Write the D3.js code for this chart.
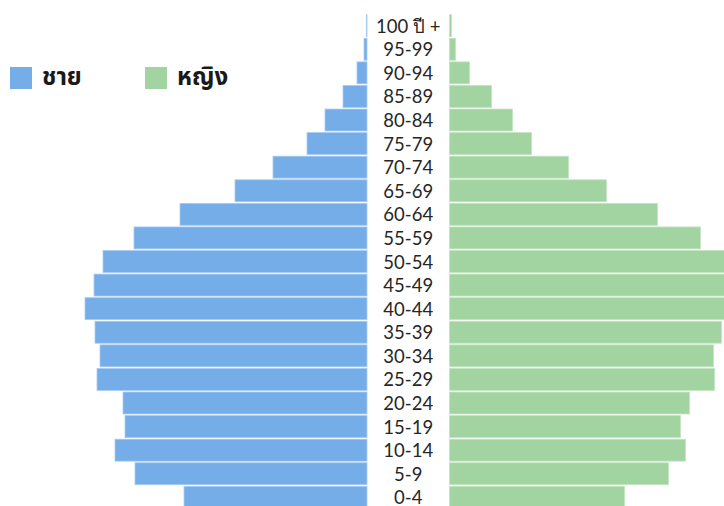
<!DOCTYPE html>
<html>
<head>
<meta charset="utf-8">
<script src="https://cdn.jsdelivr.net/npm/d3@7"></script>
<style>
  html, body { margin: 0; padding: 0; background: #fff; }
  svg { display: block; }
  .age { font-family: Lato, "Open Sans", "Noto Sans", sans-serif; font-size: 18.5px; fill: #262626; }
  .legend { font-family: "Noto Sans Thai", "Noto Sans", "Tahoma", sans-serif; font-size: 24px; font-weight: bold; fill: #1a1a1a; }
</style>
</head>
<body>
<svg id="chart" width="724" height="506"></svg>
<script>
// Age groups, oldest first (top of the pyramid)
const ageGroups = ["100 ปี +", "95-99", "90-94", "85-89", "80-84", "75-79", "70-74",
  "65-69", "60-64", "55-59", "50-54", "45-49", "40-44", "35-39", "30-34",
  "25-29", "20-24", "15-19", "10-14", "5-9", "0-4"];

// Population, thousands of persons
const male = [7, 30, 100, 240, 420, 600, 940, 1320, 1870, 2330, 2640, 2730, 2820,
  2720, 2670, 2700, 2440, 2420, 2520, 2320, 1830];
const female = [20, 60, 200, 420, 630, 820, 1190, 1570, 2080, 2510, 2860, 2880, 2900,
  2720, 2640, 2650, 2400, 2310, 2360, 2190, 1750];

const seriesNames = ["ชาย", "หญิง"];
const seriesColors = ["#74ade7", "#a2d4a2"];
const seriesStroke = ["#a8cbef", "#c4e4c3"];

const svg = d3.select("#chart");

const maleRight = 367, femaleLeft = 449.5;

const y = d3.scaleBand()
  .domain(ageGroups)
  .range([14, 509])
  .paddingInner(0.07)
  .paddingOuter(0.03);

// 100 thousand persons per 10 px on both sides
const xLen = d3.scaleLinear().domain([0, 3000]).range([0, 300]);

svg.append("g").selectAll("rect")
  .data(ageGroups.map((a, i) => ({ a, v: male[i] })))
  .join("rect")
  .attr("x", d => maleRight - xLen(d.v))
  .attr("y", d => y(d.a))
  .attr("width", d => xLen(d.v))
  .attr("height", y.bandwidth())
  .attr("fill", seriesColors[0])
  .attr("stroke", seriesStroke[0])
  .attr("stroke-width", 0.8);

svg.append("g").selectAll("rect")
  .data(ageGroups.map((a, i) => ({ a, v: female[i] })))
  .join("rect")
  .attr("x", femaleLeft)
  .attr("y", d => y(d.a))
  .attr("width", d => xLen(d.v))
  .attr("height", y.bandwidth())
  .attr("fill", seriesColors[1])
  .attr("stroke", seriesStroke[1])
  .attr("stroke-width", 0.8);

// Age labels in the central gap
svg.append("g").selectAll("text")
  .data(ageGroups)
  .join("text")
  .attr("class", "age")
  .attr("x", (maleRight + femaleLeft) / 2)
  .attr("y", d => y(d) + y.bandwidth() / 2)
  .attr("text-anchor", "middle")
  .attr("dominant-baseline", "central")
  .text(d => d);

// Legend
const legendX = [10, 145];
const lg = svg.append("g").selectAll("g")
  .data(seriesNames)
  .join("g")
  .attr("transform", (d, i) => `translate(${legendX[i]},67)`);
lg.append("rect")
  .attr("width", 22).attr("height", 22)
  .attr("fill", (d, i) => seriesColors[i]);
lg.append("text")
  .attr("class", "legend")
  .attr("x", 32)
  .attr("y", 18)
  .text(d => d);
</script>
</body>
</html>
